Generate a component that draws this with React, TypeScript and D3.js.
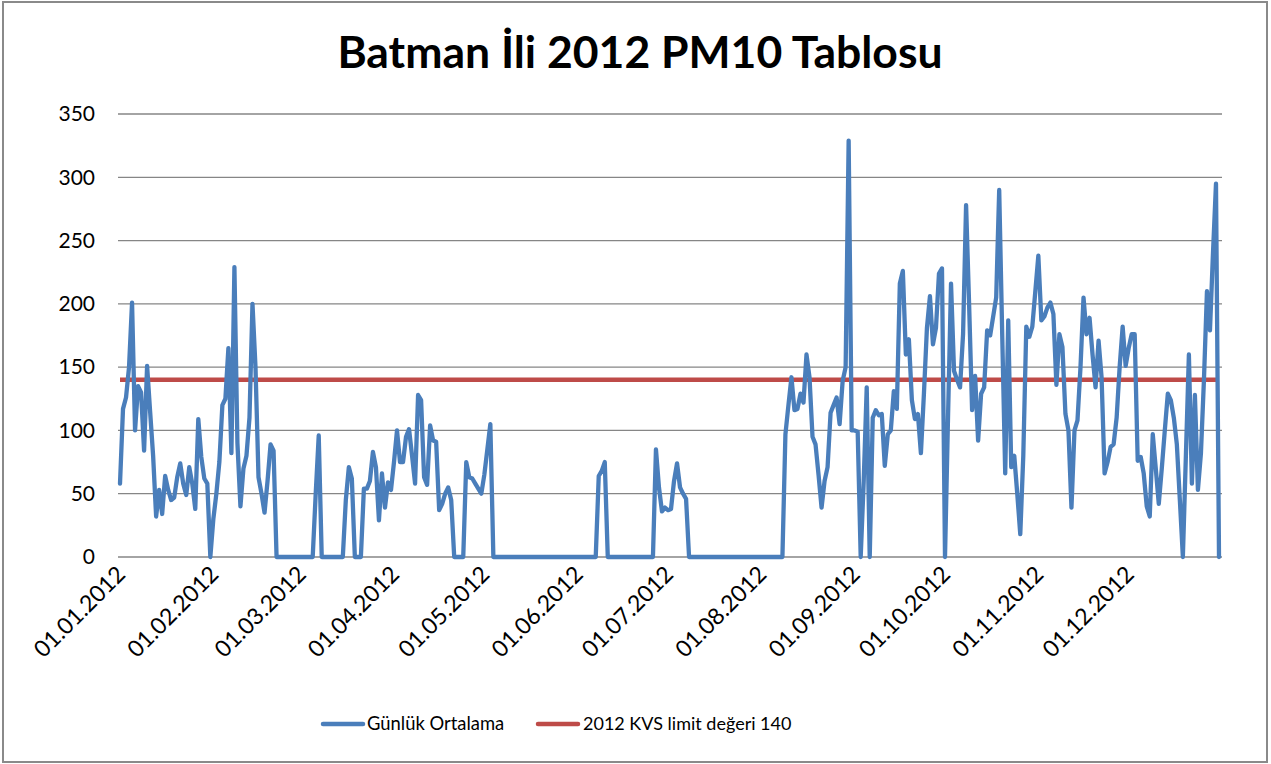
import React from 'react';
import * as d3 from 'd3';

// Daily PM10 averages (µg/m³), one array per month of 2012
const jan = [58,117,126,150,201,100,135,130,84,151,115,80,32,53,34,64,53,45,47,63,74,58,49,71,58,38,109,79,62,58,0];
const feb = [30,50,75,120,125,165,82,229,90,40,70,80,110,200,150,63,50,35,60,89,84,0,0,0,0,0,0,0,0];
const mar = [0,0,0,0,0,50,96,0,0,0,0,0,0,0,0,45,71,62,0,0,0,54,54,60,83,71,29,66,39,59,53];
const apr = [75,100,75,75,95,101,80,58,128,124,63,57,104,92,91,37,42,50,55,45,0,0,0,0,75,63,62,58,54,50];
const may = [65,85,105,0,0,0,0,0,0,0,0,0,0,0,0,0,0,0,0,0,0,0,0,0,0,0,0,0,0,0,0];
const jun = [0,0,0,0,0,0,0,64,68,75,0,0,0,0,0,0,0,0,0,0,0,0,0,0,0,0,85,55,36,39];
const jul = [37,38,60,74,55,50,46,0,0,0,0,0,0,0,0,0,0,0,0,0,0,0,0,0,0,0,0,0,0,0,0];
const aug = [0,0,0,0,0,0,0,0,97,120,142,116,117,129,122,160,142,95,89,65,39,60,71,114,120,126,105,139,150,329,100];
const sep = [100,99,0,60,134,0,110,116,112,113,72,97,100,131,117,216,226,160,172,124,109,113,82,129,181,206,168,181,224,228];
const oct = [0,110,216,147,140,134,176,278,200,116,143,92,129,134,179,175,190,205,290,176,66,187,71,80,50,18,80,182,174,182,210];
const nov = [238,187,190,197,201,192,136,176,166,113,100,39,100,108,150,205,176,189,160,134,171,142,66,75,87,89,110,150,182,151];
const dec = [165,176,176,76,79,66,40,32,97,70,42,70,100,129,124,110,89,45,0,80,160,58,128,53,82,140,210,179,240,295,0];

const dailyValues: number[] = [jan, feb, mar, apr, may, jun, jul, aug, sep, oct, nov, dec].flat();

const limitValue = 140;
const yTicks = [0, 50, 100, 150, 200, 250, 300, 350];
const monthLabels = [
  '01.01.2012', '01.02.2012', '01.03.2012', '01.04.2012', '01.05.2012', '01.06.2012',
  '01.07.2012', '01.08.2012', '01.09.2012', '01.10.2012', '01.11.2012', '01.12.2012',
];
const chartTitle = 'Batman İli 2012 PM10 Tablosu';
const seriesNames = ['Günlük Ortalama', '2012 KVS limit değeri 140'];

const BLUE = '#4A7EBB';
const RED = '#BE4B48';
const GRID = '#868686';
const FONT = 'Lato, "Open Sans", sans-serif';

export default function App() {
  const W = 1271;
  const H = 764;
  const plotLeft = 120;
  const plotRight = 1222;
  const plotTop = 114;
  const plotBottom = 557;

  const start = new Date(2012, 0, 1);
  const end = new Date(2012, 11, 31);
  const dates = dailyValues.map((_, i) => d3.timeDay.offset(start, i));

  const x = d3.scaleTime().domain([start, end]).range([plotLeft, 1219]);
  const y = d3.scaleLinear().domain([0, 350]).range([plotBottom, plotTop]);

  const line = d3
    .line<number>()
    .x((_, i) => x(dates[i]))
    .y((d) => y(d));

  const monthStarts = d3.timeMonth.range(start, new Date(2013, 0, 1));

  return (
    <div style={{ position: 'absolute', left: 0, top: 0 }}>
      <svg width={W} height={H} style={{ display: 'block', background: '#fff' }}>
        <rect x={3} y={2} width={1264} height={760} fill="#fff" stroke="#8a8a8a" strokeWidth={2} />
        <text x={640} y={68} textAnchor="middle" fontFamily={FONT} fontWeight={700} fontSize={44.5} fill="#000">
          {chartTitle}
        </text>

        {yTicks.map((t) => (
          <g key={t}>
            <line x1={plotLeft - 2} x2={plotRight} y1={y(t)} y2={y(t)} stroke={GRID} strokeWidth={1.3} />
            <text x={95} y={y(t)} dy="0.35em" textAnchor="end" fontFamily={FONT} fontSize={21} fill="#000">
              {t}
            </text>
          </g>
        ))}

        {monthStarts.map((m, i) => (
          <text
            key={i}
            transform={`translate(${x(m) + 1},${plotBottom + 13}) rotate(-45)`}
            dy="0.35em"
            textAnchor="end"
            fontFamily={FONT}
            fontSize={23}
            fill="#000"
          >
            {monthLabels[i]}
          </text>
        ))}

        <line
          x1={x(start)}
          x2={x(end)}
          y1={y(limitValue)}
          y2={y(limitValue)}
          stroke={RED}
          strokeWidth={4.5}
        />
        <path d={line(dailyValues) || ''} fill="none" stroke={BLUE} strokeWidth={4.3} strokeLinejoin="round" strokeLinecap="round" />

        <g fontFamily={FONT} fill="#000">
          <line x1={323} x2={363} y1={724} y2={724} stroke={BLUE} strokeWidth={4.5} strokeLinecap="round" />
          <text x={367} y={724} dy="0.35em" fontSize={18.4}>{seriesNames[0]}</text>
          <line x1={538} x2={578} y1={724} y2={724} stroke={RED} strokeWidth={4.5} strokeLinecap="round" />
          <text x={583} y={724} dy="0.35em" fontSize={18}>{seriesNames[1]}</text>
        </g>
      </svg>
    </div>
  );
}
